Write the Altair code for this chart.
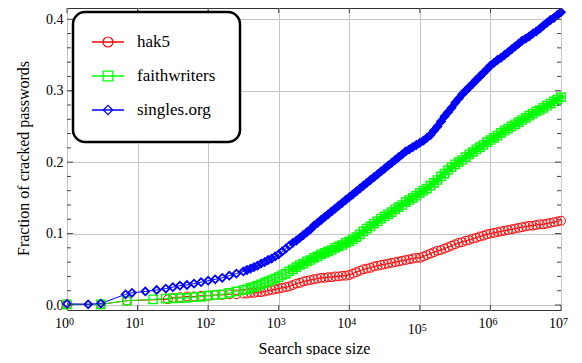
import altair as alt
import pandas as pd

series = ["hak5", "faithwriters", "singles.org"]
colors = ["#ff0000", "#00ff00", "#0000ff"]
shapes = ["circle", "square", "diamond"]

# log10(search space size) sample positions
lx_mid = [1.5, 1.6, 1.7, 1.8, 1.9, 2.0, 2.1, 2.2, 2.3, 2.4]
lx_dense = [2.5, 2.55, 2.6, 2.65, 2.7, 2.75, 2.8, 2.85, 2.9, 2.95,
            3.0, 3.05, 3.1, 3.15, 3.2, 3.25, 3.3, 3.35, 3.4, 3.45,
            3.5, 3.55, 3.6, 3.65, 3.7, 3.75, 3.8, 3.85, 3.9, 3.95,
            4.0, 4.05, 4.1, 4.15, 4.2, 4.25, 4.3, 4.35, 4.4, 4.45,
            4.5, 4.55, 4.6, 4.65, 4.7, 4.75, 4.8, 4.85, 4.9, 4.95,
            5.0, 5.05, 5.1, 5.15, 5.2, 5.25, 5.3, 5.35, 5.4, 5.45,
            5.5, 5.55, 5.6, 5.65, 5.7, 5.75, 5.8, 5.85, 5.9, 5.95,
            6.0, 6.05, 6.1, 6.15, 6.2, 6.25, 6.3, 6.35, 6.4, 6.45,
            6.5, 6.55, 6.6, 6.65, 6.7, 6.75, 6.8, 6.85, 6.9, 6.95,
            7.0]

hak5_lx_early = [0.0, 0.48, 0.85, 1.43]
hak5_y_early = [0.001, 0.001, 0.006, 0.008]
hak5_y_mid = [0.010, 0.011, 0.012, 0.012, 0.013, 0.013, 0.014, 0.014, 0.015, 0.015]
hak5_y_dense = [0.016, 0.016, 0.017, 0.017, 0.018, 0.018, 0.019, 0.020, 0.021, 0.022,
                0.023, 0.024, 0.025, 0.026, 0.028, 0.030, 0.031, 0.033, 0.034, 0.035,
                0.036, 0.037, 0.038, 0.038, 0.039, 0.039, 0.040, 0.040, 0.041, 0.041,
                0.042, 0.044, 0.046, 0.048, 0.050, 0.051, 0.052, 0.054, 0.055, 0.056,
                0.057, 0.058, 0.059, 0.060, 0.061, 0.062, 0.063, 0.064, 0.065, 0.066,
                0.066, 0.068, 0.070, 0.072, 0.074, 0.076, 0.077, 0.079, 0.081, 0.083,
                0.085, 0.087, 0.088, 0.090, 0.091, 0.093, 0.094, 0.096, 0.097, 0.099,
                0.100, 0.101, 0.102, 0.103, 0.104, 0.105, 0.106, 0.107, 0.108, 0.109,
                0.110, 0.111, 0.111, 0.112, 0.113, 0.113, 0.114, 0.115, 0.116, 0.117,
                0.118]

faith_lx_early = [0.0, 0.48, 0.85, 1.22, 1.4]
faith_y_early = [0.001, 0.001, 0.006, 0.008, 0.009]
faith_y_mid = [0.0094, 0.0096, 0.010, 0.011, 0.0115, 0.013, 0.014, 0.015, 0.017, 0.019]
faith_y_dense = [0.021, 0.022, 0.024, 0.025, 0.027, 0.029, 0.031, 0.033, 0.035, 0.037,
                 0.039, 0.042, 0.044, 0.047, 0.050, 0.053, 0.056, 0.058, 0.061, 0.063,
                 0.066, 0.068, 0.071, 0.073, 0.075, 0.077, 0.080, 0.082, 0.084, 0.087,
                 0.089, 0.092, 0.095, 0.099, 0.103, 0.107, 0.110, 0.114, 0.117, 0.121,
                 0.124, 0.127, 0.130, 0.134, 0.137, 0.140, 0.144, 0.147, 0.150, 0.153,
                 0.157, 0.160, 0.163, 0.167, 0.171, 0.175, 0.180, 0.184, 0.189, 0.193,
                 0.197, 0.200, 0.203, 0.207, 0.211, 0.214, 0.218, 0.221, 0.224, 0.228,
                 0.231, 0.234, 0.237, 0.241, 0.244, 0.247, 0.250, 0.253, 0.256, 0.259,
                 0.262, 0.265, 0.268, 0.271, 0.273, 0.276, 0.279, 0.282, 0.285, 0.288,
                 0.291]

singles_lx_early = [0.0, 0.30, 0.48, 0.83, 0.92, 1.11, 1.27, 1.4]
singles_y_early = [0.0015, 0.001, 0.002, 0.015, 0.017, 0.019, 0.021, 0.023]
singles_y_mid = [0.025, 0.027, 0.028, 0.030, 0.032, 0.034, 0.036, 0.038, 0.041, 0.044]
singles_y_dense = [0.047, 0.049, 0.051, 0.053, 0.055, 0.058, 0.060, 0.063, 0.065, 0.068,
                   0.071, 0.075, 0.079, 0.083, 0.087, 0.090, 0.094, 0.098, 0.102, 0.106,
                   0.111, 0.115, 0.119, 0.123, 0.127, 0.131, 0.135, 0.139, 0.143, 0.147,
                   0.151, 0.155, 0.159, 0.163, 0.167, 0.171, 0.175, 0.179, 0.183, 0.187,
                   0.191, 0.195, 0.199, 0.203, 0.207, 0.211, 0.215, 0.218, 0.221, 0.224,
                   0.227, 0.230, 0.234, 0.238, 0.244, 0.250, 0.257, 0.264, 0.270, 0.276,
                   0.283, 0.289, 0.295, 0.300, 0.305, 0.310, 0.315, 0.320, 0.325, 0.330,
                   0.335, 0.339, 0.343, 0.346, 0.350, 0.354, 0.358, 0.362, 0.366, 0.370,
                   0.373, 0.376, 0.380, 0.383, 0.387, 0.391, 0.395, 0.399, 0.402, 0.406,
                   0.410]

y_major_ticks = [0.0, 0.1, 0.2, 0.3, 0.4]
y_minor_ticks = [0.02, 0.04, 0.06, 0.08, 0.12, 0.14, 0.16, 0.18,
                 0.22, 0.24, 0.26, 0.28, 0.32, 0.34, 0.36, 0.38]
x_exponents = [0, 1, 2, 3, 4, 5, 6, 7]

# ---- build tables ----
rows = []
for name, lxe, ye, ym, yd in [
    ("hak5", hak5_lx_early, hak5_y_early, hak5_y_mid, hak5_y_dense),
    ("faithwriters", faith_lx_early, faith_y_early, faith_y_mid, faith_y_dense),
    ("singles.org", singles_lx_early, singles_y_early, singles_y_mid, singles_y_dense),
]:
    assert len(lxe) == len(ye) and len(ym) == len(lx_mid) and len(yd) == len(lx_dense)
    lxs = lxe + lx_mid + lx_dense
    ys = ye + ym + yd
    for k, (lx, y) in enumerate(zip(lxs, ys)):
        rows.append({"series": name, "x": 10 ** lx, "y": y, "k": k})
df = pd.DataFrame(rows)

W, H = 494, 302
FONT = "Liberation Serif"

xscale = alt.Scale(type="log", domain=[1, 1e7], nice=False)
yscale = alt.Scale(domain=[-0.007, 0.4158], nice=False, zero=False)
cscale = alt.Scale(domain=series, range=colors)
sscale = alt.Scale(domain=series, range=shapes)

x_axis = alt.Axis(values=[10 ** e for e in x_exponents], labels=False, grid=True,
                  ticks=False, tickSize=0, domain=False,
                  gridColor="#c4c4c4", gridWidth=1,
                  title="Search space size", titleFont=FONT, titleFontSize=16,
                  titleFontWeight="normal", titleColor="black",
                  titleX=W / 2, titleY=43, titleAlign="center",
                  titleBaseline="alphabetic")
y_axis = alt.Axis(values=y_major_ticks, format=".1f", grid=True, ticks=False,
                  tickSize=0, domain=False, gridColor="#c4c4c4", gridWidth=1,
                  labelFont=FONT, labelFontSize=14, labelColor="black",
                  labelPadding=4,
                  title="Fraction of cracked passwords", titleFont=FONT,
                  titleFontSize=16, titleFontWeight="normal", titleColor="black",
                  titleAngle=270, titleX=-38.5, titleY=150, titleAlign="center",
                  titleBaseline="alphabetic")
xx = alt.X("x:Q", scale=xscale, axis=x_axis)
yy = alt.Y("y:Q", scale=yscale, axis=y_axis)

base = alt.Chart(df)
lines = base.mark_line(strokeWidth=1, clip=False).encode(
    x=xx, y=yy,
    color=alt.Color("series:N", scale=cscale, legend=None),
    detail="series:N", order="k:Q",
)
# where the markers are packed so tightly they merge into a solid band
band = base.transform_filter(
    "datum.x >= 1500 && datum.series != 'hak5'"
).mark_line(strokeWidth=6, clip=False, strokeCap="round").encode(
    x=xx, y=yy,
    color=alt.Color("series:N", scale=cscale, legend=None),
    detail="series:N", order="k:Q",
)
points = base.mark_point(filled=False, clip=False, opacity=1).encode(
    x=xx, y=yy,
    color=alt.Color("series:N", scale=cscale, legend=None),
    shape=alt.Shape("series:N", scale=sscale, legend=None),
    size=alt.Size("series:N", scale=alt.Scale(domain=series, range=[78, 60, 70]), legend=None),
    strokeWidth=alt.StrokeWidth("series:N", scale=alt.Scale(domain=series, range=[1.0, 1.8, 1.9]), legend=None),
)

TICK = "#444444"
ymaj = pd.DataFrame({"y": y_major_ticks})
ymin = pd.DataFrame({"y": y_minor_ticks})
ticks = [
    alt.Chart(ymaj).mark_rule(color=TICK, strokeWidth=1).encode(x=alt.value(0), x2=alt.value(6), y=yy),
    alt.Chart(ymaj).mark_rule(color=TICK, strokeWidth=1).encode(x=alt.value(W - 6), x2=alt.value(W), y=yy),
    alt.Chart(ymin).mark_rule(color=TICK, strokeWidth=1).encode(x=alt.value(0), x2=alt.value(4), y=yy),
    alt.Chart(ymin).mark_rule(color=TICK, strokeWidth=1).encode(x=alt.value(W - 4), x2=alt.value(W), y=yy),
]
xt = pd.DataFrame({"x": [10 ** e for e in x_exponents], "e": x_exponents})
ticks += [
    alt.Chart(xt).mark_rule(color=TICK, strokeWidth=1).encode(x=xx, y=alt.value(H), y2=alt.value(H - 5)),
    alt.Chart(xt).mark_rule(color=TICK, strokeWidth=1).encode(x=xx, y=alt.value(0), y2=alt.value(5)),
]

# x tick labels 10^n
lab_normal = alt.Chart(xt).transform_filter("datum.e != 5")
lab_low = alt.Chart(xt).transform_filter("datum.e == 5")
xlabels = []
for ch, off in [(lab_normal, 0), (lab_low, 6)]:
    xlabels.append(ch.mark_text(font=FONT, fontSize=14, color="black", align="center",
                                baseline="alphabetic", dx=-5).encode(
        x=xx, y=alt.value(H + 17.5 + off), text=alt.value("10")))
    xlabels.append(ch.mark_text(font=FONT, fontSize=10, color="black", align="left",
                                baseline="alphabetic", dx=2).encode(
        x=xx, y=alt.value(H + 15 + off), text="e:N"))

# legend box
legbox = alt.Chart(pd.DataFrame({"a": [0]})).mark_rect(
    fill="white", stroke="black", strokeWidth=2.5, cornerRadius=12).encode(
    x=alt.value(6), x2=alt.value(173), y=alt.value(4), y2=alt.value(134))
leg = alt.Chart(pd.DataFrame({"series": series, "i": [0, 1, 2]})).transform_calculate(
    ly="34 + 34 * datum.i", ty="39 + 34 * datum.i")
leg_lines = leg.mark_rule(strokeWidth=1.5).encode(
    x=alt.value(25), x2=alt.value(57), y=alt.Y("ly:Q", scale=None),
    color=alt.Color("series:N", scale=cscale, legend=None))
leg_pts = leg.mark_point(filled=False, strokeWidth=1.2, opacity=1).encode(
    x=alt.value(41), y=alt.Y("ly:Q", scale=None),
    color=alt.Color("series:N", scale=cscale, legend=None),
    shape=alt.Shape("series:N", scale=sscale, legend=None),
    size=alt.Size("series:N", scale=alt.Scale(domain=series, range=[100, 85, 70]), legend=None))
leg_txt = leg.mark_text(font=FONT, fontSize=17, color="black", align="left",
                        baseline="alphabetic").encode(
    x=alt.value(70), y=alt.Y("ty:Q", scale=None), text="series:N")

chart = alt.layer(lines, band, points, *ticks, *xlabels, legbox, leg_lines, leg_pts, leg_txt).properties(
    width=W, height=H,
    autosize=alt.AutoSizeParams(type="none"),
    padding={"left": 59, "top": 0, "right": 13, "bottom": 45},
).configure_view(stroke="#333333", strokeWidth=1).resolve_scale(
    color="shared", shape="shared", size="independent", strokeWidth="independent")

chart.save("out.html", embed_options={"renderer": "svg", "actions": False})
